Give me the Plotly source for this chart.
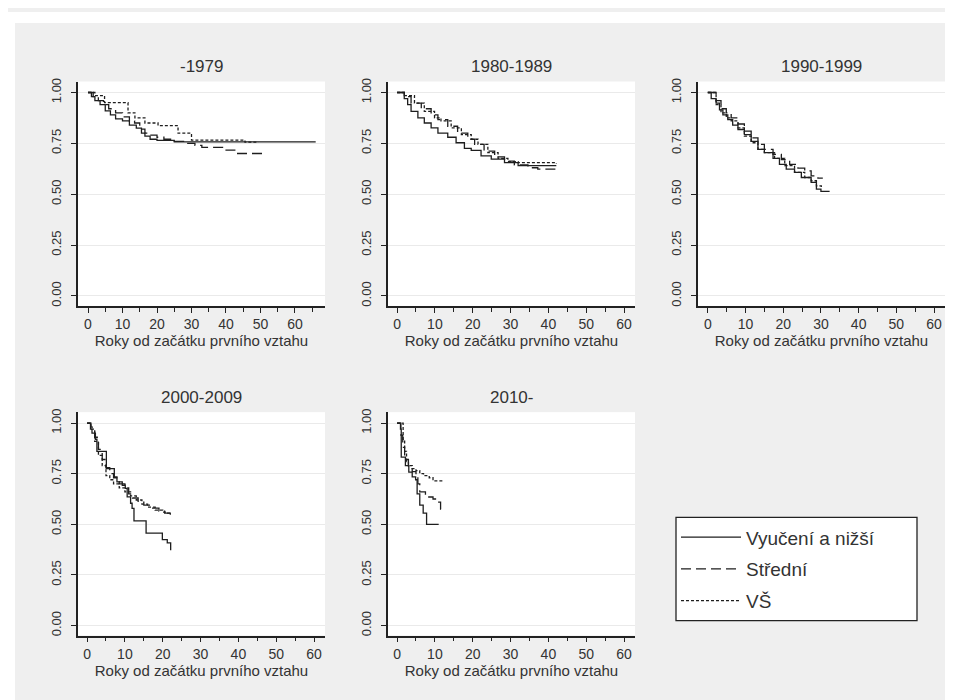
import plotly.graph_objects as go

# Panel titles (cohort of first partnership)
panel_titles = ["-1979", "1980-1989", "1990-1999", "2000-2009", "2010-"]
group_names = ["Vyučení a nižší", "Střední", "VŠ"]

# Kaplan-Meier estimates: time (years) and survival
# -1979
p1_vyu_t = [0, 1, 2, 3.5, 5, 6.5, 8, 10, 12, 14, 15.5, 16.5, 18, 20, 25, 66]
p1_vyu_s = [1, .98, .96, .94, .91, .89, .87, .86, .84, .825, .80, .785, .77, .765, .757, .757]
p1_str_t = [0, 1.5, 3, 4.5, 6, 8, 10, 12, 13.5, 15, 16.5, 18, 20, 22, 25, 28, 31, 33, 39, 43, 51]
p1_str_s = [1, .98, .96, .94, .92, .90, .88, .86, .85, .82, .80, .79, .78, .77, .76, .75, .74, .73, .717, .70, .70]
p1_vs_t = [0, 2, 4.8, 11.6, 13.6, 16.5, 20.3, 26.1, 30, 45.5, 49.4]
p1_vs_s = [1, .985, .95, .90, .875, .85, .837, .80, .766, .756, .756]

# 1980-1989
p2_vyu_t = [0, 1.9, 2.8, 3.7, 5.5, 7.2, 9, 10.8, 13.4, 15.6, 17.8, 19.6, 22.2, 24.9, 28.4, 32, 42.1]
p2_vyu_s = [1, .97, .94, .907, .875, .85, .826, .80, .78, .753, .725, .715, .688, .672, .655, .64, .64]
p2_str_t = [0, 1.9, 3.7, 6.4, 9, 10.8, 13.4, 16, 18.7, 20.5, 23, 25.8, 28.4, 31, 34.6, 37.2, 42.1]
p2_str_s = [1, .98, .948, .92, .89, .867, .834, .80, .77, .745, .712, .683, .663, .644, .63, .623, .623]
p2_vs_t = [0, 1.9, 4.6, 7.2, 9.9, 11.6, 14.3, 17, 19.6, 21.4, 24, 26.7, 29.3, 32, 42.1]
p2_vs_s = [1, .985, .948, .907, .875, .86, .826, .793, .77, .745, .704, .676, .66, .655, .65]

# 1990-1999
p3_vyu_t = [0, 0.9, 2.2, 3.1, 4, 5.3, 6.6, 8, 9.7, 11.5, 13.3, 15, 17.3, 19, 20.8, 23, 24.8, 27.4, 28.8, 30, 32.3]
p3_vyu_s = [1, .97, .948, .915, .89, .867, .84, .818, .793, .76, .72, .704, .676, .647, .623, .607, .582, .558, .525, .514, .514]
p3_str_t = [0, 2.2, 3.5, 4.9, 6.2, 8, 9.7, 11.5, 13.3, 15, 17.3, 19.5, 21.7, 23.9, 25.7, 27.4, 29.2, 30.5]
p3_str_s = [1, .96, .92, .90, .875, .845, .81, .777, .745, .72, .696, .67, .647, .628, .615, .59, .579, .579]
p3_vs_t = [0, 2.2, 3.5, 4.9, 6.2, 8, 9.7, 11.5, 13.3, 15, 17.7, 20.4, 23, 25.7, 27.4, 28.8, 30.1]
p3_vs_s = [1, .94, .90, .875, .86, .826, .785, .753, .72, .704, .676, .64, .607, .582, .566, .541, .533]

# 2000-2009
p4_vyu_t = [0, 0.9, 1.3, 2.2, 2.6, 5.1, 7.2, 7.9, 9.3, 10.1, 10.6, 11.5, 11.9, 12.4, 15.6, 19.9, 21.2, 22.1]
p4_vyu_s = [1, .97, .95, .92, .86, .775, .734, .71, .693, .677, .636, .604, .579, .517, .457, .424, .408, .372]
p4_str_t = [0, 1, 2, 3, 4, 5, 6, 7, 8.5, 10, 11, 12, 13.5, 15, 17, 19, 20.5, 22]
p4_str_s = [1, .98, .93, .87, .82, .78, .75, .73, .70, .68, .65, .63, .61, .595, .58, .565, .555, .545]
p4_vs_t = [0, 1, 2, 3, 4, 5, 6, 7, 8.5, 10, 11.5, 13, 14.5, 16, 18, 20, 21, 22]
p4_vs_s = [1, .97, .91, .84, .79, .74, .72, .70, .68, .66, .64, .62, .60, .585, .57, .56, .555, .55]

# 2010-
p5_vyu_t = [0, 0.9, 1.1, 2.2, 3.1, 4, 4.9, 5.3, 6, 6.9, 7.8, 11]
p5_vyu_s = [1, .97, .832, .79, .758, .734, .72, .65, .595, .555, .50, .50]
p5_str_t = [0, 1, 1.5, 2, 3, 4, 5, 5.5, 6, 7.5, 9.5, 10.5, 11.5, 12]
p5_str_s = [1, .94, .88, .82, .78, .76, .74, .70, .66, .635, .625, .61, .575, .575]
p5_vs_t = [0, 1.6, 2, 2.5, 3, 4, 5, 6, 7, 8.5, 9.5, 12.3]
p5_vs_s = [1, .92, .86, .81, .79, .775, .765, .75, .74, .73, .715, .715]

panels = [
    [(p1_vyu_t, p1_vyu_s), (p1_str_t, p1_str_s), (p1_vs_t, p1_vs_s)],
    [(p2_vyu_t, p2_vyu_s), (p2_str_t, p2_str_s), (p2_vs_t, p2_vs_s)],
    [(p3_vyu_t, p3_vyu_s), (p3_str_t, p3_str_s), (p3_vs_t, p3_vs_s)],
    [(p4_vyu_t, p4_vyu_s), (p4_str_t, p4_str_s), (p4_vs_t, p4_vs_s)],
    [(p5_vyu_t, p5_vyu_s), (p5_str_t, p5_str_s), (p5_vs_t, p5_vs_s)],
]

W, H = 953, 700
dashes = ["solid", "10px,5px", "3px,2px"]
line_color = "#1e1e1e"
font_family = "Arial, Liberation Sans, sans-serif"

# pixel boxes of the plot regions (left, right, top, bottom)
boxes = [
    (70, 317, 70, 296),
    (380, 627, 70, 296),
    (690, 937, 70, 296),
    (70, 317, 403, 628),
    (380, 627, 403, 628),
]
x_ranges = [[-2.9, 68.7], [-2.4, 62.9], [-2.6, 62.9], [-2.4, 62.9], [-2.4, 62.9]]

fig = go.Figure()

for i, series in enumerate(panels):
    for g, (t, s) in enumerate(series):
        fig.add_trace(go.Scatter(
            x=t, y=s,
            mode="lines",
            line=dict(color=line_color, width=1.3, dash=dashes[g], shape="hv"),
            name=group_names[g],
            legendgroup=group_names[g],
            showlegend=(i == 0),
            xaxis="x" if i == 0 else f"x{i + 1}",
            yaxis="y" if i == 0 else f"y{i + 1}",
        ))

layout = {}
annotations = []
for i, (l, r, t, b) in enumerate(boxes):
    sx = "" if i == 0 else str(i + 1)
    layout[f"xaxis{sx}"] = dict(
        domain=[l / W, r / W],
        anchor=f"y{sx}",
        range=x_ranges[i],
        tickvals=[0, 10, 20, 30, 40, 50, 60],
        ticks="outside", ticklen=5, tickwidth=1.2, tickcolor="#222",
        minor=dict(tickvals=[5, 15, 25, 35, 45, 55, 65], ticks="outside",
                   ticklen=4, tickwidth=1.2, tickcolor="#222"),
        showline=True, linecolor="#222", linewidth=1.5,
        showgrid=False, zeroline=False,
        tickfont=dict(size=14, color="#333", family=font_family),
        title=dict(text="Roky od začátku prvního vztahu", standoff=1,
                   font=dict(size=15, color="#333", family=font_family)),
        fixedrange=True,
    )
    layout[f"yaxis{sx}"] = dict(
        domain=[1 - b / H, 1 - t / H],
        anchor=f"x{sx}",
        range=[-0.049, 1.054],
        tickvals=[0, 0.25, 0.5, 0.75, 1.0],
        tickformat=".2f",
        tickangle=-90,
        ticks="outside", ticklen=5, tickwidth=1.2, tickcolor="#222",
        ticklabelstandoff=5,
        showline=True, linecolor="#222", linewidth=1.5,
        showgrid=True, gridcolor="#eaeaea", gridwidth=1,
        zeroline=False,
        tickfont=dict(size=13, color="#333", family=font_family),
        fixedrange=True,
    )
    annotations.append(dict(
        text=panel_titles[i], xref="paper", yref="paper",
        x=(l + r) / 2 / W, y=1 - (t - 15) / H,
        xanchor="center", yanchor="middle", showarrow=False,
        font=dict(size=17, color="#333", family=font_family),
    ))

# thin white frame round the grey graph region, and the legend box
shapes = [
    dict(type="rect", xref="paper", yref="paper", x0=0, x1=1, y0=1 - 11 / H, y1=1,
         fillcolor="white", line=dict(width=0)),
    dict(type="rect", xref="paper", yref="paper", x0=0, x1=7 / W, y0=0, y1=1,
         fillcolor="white", line=dict(width=0)),
    dict(type="rect", xref="paper", yref="paper", x0=947 / W, x1=1, y0=0, y1=1,
         fillcolor="white", line=dict(width=0)),
    dict(type="rect", xref="paper", yref="paper",
         x0=668 / W, x1=909 / W, y0=1 - 613 / H, y1=1 - 509 / H,
         fillcolor="white", line=dict(color="#222", width=1.3)),
]

fig.update_layout(
    **layout,
    annotations=annotations,
    shapes=shapes,
    width=W, height=H,
    margin=dict(l=0, r=0, t=0, b=0),
    paper_bgcolor="#efefef",
    plot_bgcolor="white",
    font=dict(family=font_family, color="#222"),
    showlegend=True,
    legend=dict(
        x=668 / W, y=1 - 510 / H, xanchor="left", yanchor="top",
        bgcolor="rgba(0,0,0,0)", borderwidth=0,
        font=dict(size=19, color="#333", family=font_family),
        tracegroupgap=4, itemwidth=60,
    ),
)

fig.write_html("out.html")
